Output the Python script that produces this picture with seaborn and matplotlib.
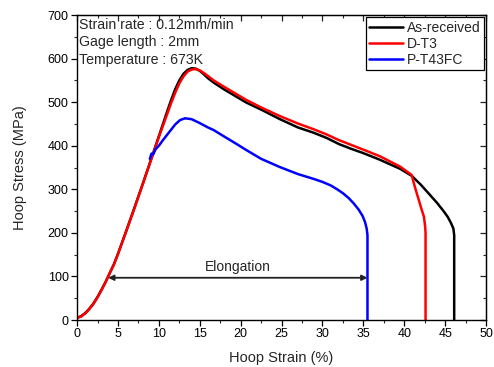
import matplotlib
matplotlib.use("Agg")
import matplotlib.pyplot as plt
import seaborn as sns
import pandas as pd
from matplotlib.ticker import MultipleLocator

# ---- data ----
ar_strain = [0, 0.5, 1, 1.5, 2, 2.5, 3, 3.5, 3.8, 4.5, 5, 6, 7, 8, 9, 10, 11, 11.5, 12, 12.5, 13, 13.5,
             14, 14.5, 15, 15.5, 16, 16.7, 18, 20.7, 22.5, 24.8, 27, 28.9, 30.5, 32, 33.5, 35, 37, 39.5,
             40.9, 41.5, 42, 43, 44, 44.8, 45.3, 45.7, 46.0, 46.1, 46.1]
ar_stress = [5, 9, 16, 26, 38, 53, 70, 88, 100, 128, 152, 204, 257, 311, 366, 422, 478, 505, 530, 550, 565, 574,
             578, 577, 572, 564, 555, 545, 529, 499, 483, 461, 442, 430, 418, 404, 393, 383, 368, 347,
             331, 320, 311, 290, 269, 250, 237, 223, 210, 195, 0]

dt3_strain = [0, 0.5, 1, 1.5, 2, 2.5, 3, 3.5, 3.8, 4.5, 5, 6, 7, 8, 9, 10, 11, 11.5, 12, 12.5, 13, 13.5,
              14, 14.5, 15, 15.5, 16, 16.7, 18, 20.7, 22.5, 24.8, 27, 28.9, 30.5, 32, 33.5, 35, 37, 39.5,
              40.9, 41.3, 41.7, 42.1, 42.4, 42.55, 42.6, 42.6]
dt3_stress = [5, 8, 15, 25, 37, 52, 69, 87, 100, 127, 151, 203, 256, 310, 365, 420, 472, 498, 522, 543, 559, 570,
              575, 576, 573, 567, 560, 550, 535, 505, 488, 468, 451, 438, 426, 413, 402, 391, 376, 352,
              333, 305, 280, 255, 237, 215, 200, 0]

pt_strain = [8.9, 9.1, 9.3, 9.6, 10, 10.5, 11, 11.5, 12, 12.6, 13.2, 14, 15, 16, 16.7, 18, 19.5, 20.7,
             22.5, 24.8, 27, 28.9, 30, 31, 31.8, 32.5, 33.2, 33.8, 34.4, 34.9, 35.2, 35.4, 35.5, 35.5]
pt_stress = [370, 382, 380, 392, 400, 413, 425, 437, 449, 459, 463, 461, 452, 442, 436, 421, 404, 390,
             370, 351, 335, 324, 317, 309, 300, 291, 280, 268, 254, 239, 225, 210, 195, 0]

series_names = ["As-received", "D-T3", "P-T43FC"]
series_colors = ["black", "#ff0000", "#0000ff"]
annotations = ["Strain rate : 0.12mm/min", "Gage length : 2mm", "Temperature : 673K"]

sns.set_style("ticks")
plt.rcParams["font.family"] = ["Liberation Sans", "DejaVu Sans"]

fig = plt.figure(figsize=(4.94, 3.67), dpi=100)
ax = fig.add_axes([0.156, 0.128, 0.828, 0.831])

data = [(ar_strain, ar_stress), (dt3_strain, dt3_stress), (pt_strain, pt_stress)]
for (xs, ys), name, col in zip(data, series_names, series_colors):
    df = pd.DataFrame({"strain": xs, "stress": ys})
    sns.lineplot(data=df, x="strain", y="stress", sort=False, estimator=None,
                 color=col, lw=1.8, label=name, ax=ax)

ax.set_xlim(0, 50)
ax.set_ylim(0, 700)
ax.xaxis.set_major_locator(MultipleLocator(5))
ax.xaxis.set_minor_locator(MultipleLocator(2.5))
ax.yaxis.set_major_locator(MultipleLocator(100))
ax.yaxis.set_minor_locator(MultipleLocator(50))
ax.tick_params(which="major", direction="out", length=4, width=0.9, labelsize=9, pad=2, colors="black")
ax.tick_params(which="minor", direction="out", length=2.5, width=0.8)
for s in ax.spines.values():
    s.set_visible(True)
    s.set_linewidth(1.0)
    s.set_color("black")

# mirrored inward ticks on top and right
top = ax.secondary_xaxis("top")
top.xaxis.set_major_locator(MultipleLocator(5))
top.xaxis.set_minor_locator(MultipleLocator(2.5))
top.tick_params(which="major", direction="in", length=4, width=0.9, labeltop=False)
top.tick_params(which="minor", direction="in", length=2.5, width=0.8)
right = ax.secondary_yaxis("right")
right.yaxis.set_major_locator(MultipleLocator(100))
right.yaxis.set_minor_locator(MultipleLocator(50))
right.tick_params(which="major", direction="in", length=4, width=0.9, labelright=False)
right.tick_params(which="minor", direction="in", length=2.5, width=0.8)

ax.set_xlabel("Hoop Strain (%)", fontsize=10.5, labelpad=8)
ax.set_ylabel("Hoop Stress (MPa)", fontsize=10.5, labelpad=15)

for i, t in enumerate(annotations):
    ax.text(0.25, 677 - i * 40, t, fontsize=10.2, va="center", ha="left")

ax.annotate("", xy=(3.8, 97), xytext=(35.5, 97),
            arrowprops=dict(arrowstyle="<|-|>", color="#222222", lw=1.3, mutation_scale=8,
                            shrinkA=0, shrinkB=0))
ax.text(19.7, 122, "Elongation", fontsize=10, ha="center", va="center")

leg = ax.legend(loc="upper right", fontsize=10, frameon=True, fancybox=False,
                edgecolor="black", framealpha=1, borderaxespad=0.15, handlelength=2.4,
                handletextpad=0.3, labelspacing=0.15, borderpad=0.25)
leg.get_frame().set_linewidth(0.9)

fig.savefig("out.png", dpi=100)
